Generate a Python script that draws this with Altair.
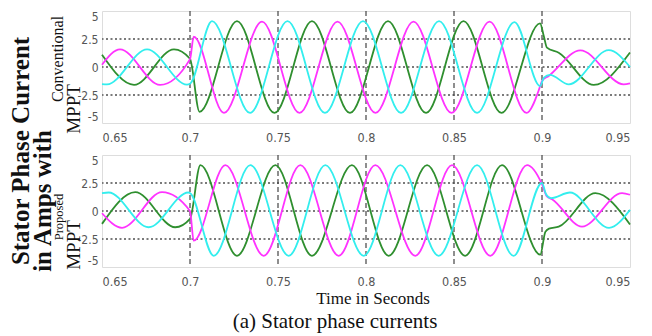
import altair as alt
import pandas as pd

# ---------------- data ----------------
x_ticks = [0.65, 0.7, 0.75, 0.8, 0.85, 0.9, 0.95]
y_ticks = [-5, -2.5, 0, 2.5, 5]
v_grid = [0.7, 0.75, 0.8, 0.85, 0.9]
h_grid = [-2.5, 0, 2.5]

# Top panel (Conventional MPPT)
top_mag_t = [0.6500, 0.6602, 0.6830, 0.7000, 0.7021, 0.7193, 0.7409, 0.7622, 0.7838, 0.8054,
             0.8270, 0.8486, 0.8702, 0.8912, 0.8990, 0.9000, 0.9038, 0.9218, 0.9464, 0.9500]
top_mag_i = [0.2, 1.58, -1.6, 0.7, 2.7, -4.1, 4.05, -4.1, 4.05, -4.1,
             4.05, -4.1, 4.05, -4.1, -1.7, -1.25, -0.8, 1.49, -1.55, -1.46]

top_cya_t = [0.6500, 0.6528, 0.6756, 0.6983, 0.7000, 0.7125, 0.7341, 0.7554, 0.7767, 0.7983,
             0.8199, 0.8415, 0.8631, 0.8844, 0.8989, 0.9011, 0.9045, 0.9152, 0.9379, 0.9500]
top_cya_i = [-1.52, -1.55, 1.58, -1.57, -1.5, 4.1, -4.1, 4.1, -4.1, 4.1,
             -4.1, 4.1, -4.1, 4.0, -1.7, -0.95, -0.7, -1.55, 1.5, 0.0]

top_grn_t = [0.6500, 0.6682, 0.6909, 0.7000, 0.7054, 0.7267, 0.7480, 0.7693, 0.7909, 0.8125,
             0.8341, 0.8554, 0.8770, 0.8989, 0.9010, 0.9028, 0.9095, 0.9294, 0.9500]
top_grn_i = [1.1, -1.6, 1.58, 0.74, -4.0, 4.1, -4.1, 4.1, -4.1, 4.1,
             -4.1, 4.1, -4.1, 3.9, 2.77, 1.73, 1.28, -1.6, 1.3]

# Bottom panel (Proposed MPPT)
bot_mag_t = [0.6500, 0.6614, 0.6841, 0.7000, 0.7021, 0.7201, 0.7419, 0.7627, 0.7845, 0.8053,
             0.8280, 0.8489, 0.8706, 0.8915, 0.9000, 0.9028, 0.9057, 0.9227, 0.9455, 0.9500]
bot_mag_i = [-0.2, -1.5, 1.68, 0.0, -2.65, 4.1, -4.0, 4.1, -4.0, 4.1,
             -4.0, 4.1, -4.0, 4.1, 2.4, 1.3, 1.05, -1.4, 1.6, 1.45]

bot_cya_t = [0.6500, 0.6538, 0.6765, 0.6991, 0.7000, 0.7135, 0.7343, 0.7561, 0.7769, 0.7987,
             0.8195, 0.8413, 0.8631, 0.8839, 0.9000, 0.9023, 0.9051, 0.9159, 0.9381, 0.9500]
bot_cya_i = [1.6, 1.65, -1.45, 1.65, 1.6, -4.0, 4.1, -4.0, 4.1, -4.0,
             4.1, -4.0, 4.1, -4.0, 2.5, 1.5, 1.15, 1.65, -1.5, 0.1]

bot_grn_t = [0.6500, 0.6689, 0.6916, 0.7000, 0.7059, 0.7267, 0.7485, 0.7693, 0.7920, 0.8129,
             0.8347, 0.8563, 0.8773, 0.8990, 0.9019, 0.9040, 0.9095, 0.9303, 0.9500]
bot_grn_i = [-1.15, 1.68, -1.45, -0.7, 4.1, -4.0, 4.1, -4.0, 4.1, -4.0,
             4.1, -4.0, 4.1, -3.9, -1.86, -1.57, -1.4, 1.59, -1.2]

phase_names = ["green", "magenta", "cyan"]
phase_colors = ["#2f8f2f", "#ff33ff", "#33eeee"]

rows = []
for panel, phase, ts, vs in [
    ("top", "green", top_grn_t, top_grn_i),
    ("top", "magenta", top_mag_t, top_mag_i),
    ("top", "cyan", top_cya_t, top_cya_i),
    ("bot", "green", bot_grn_t, bot_grn_i),
    ("bot", "magenta", bot_mag_t, bot_mag_i),
    ("bot", "cyan", bot_cya_t, bot_cya_i),
]:
    for t, v in zip(ts, vs):
        rows.append({"panel": panel, "phase": phase, "t": t, "i": v})
df = pd.DataFrame(rows)

W, H = 528, 112
xs = alt.Scale(domain=[0.65, 0.95], nice=False, zero=False)
ys = alt.Scale(domain=[-5, 5], nice=False, zero=False)
LABEL_FONT = "DejaVu Sans Condensed, Liberation Sans, sans-serif"
SERIF = "Liberation Serif, Times New Roman, serif"

xaxis = alt.Axis(values=x_ticks, format=".2~f", grid=False, ticks=False, domain=False,
                 labelPadding=8, labelFont=LABEL_FONT, labelFontSize=12.5,
                 labelColor="#555555", title=None)
yaxis = alt.Axis(values=y_ticks, labelExpr="datum.value < 0 ? '-' + format(-datum.value, '~g') : format(datum.value, '~g')",
                 grid=False, ticks=False, domain=False,
                 labelPadding=4, labelFlush=True, labelFont=LABEL_FONT, labelFontSize=12,
                 labelColor="#555555", title=None)


def text_layer(label, px, py, size, weight="normal"):
    return alt.Chart(pd.DataFrame({"label": [label]})).mark_text(
        angle=270, align="center", baseline="middle", font=SERIF,
        fontSize=size, fontWeight=weight, color="#111111"
    ).encode(x=alt.value(px), y=alt.value(py), text="label:N")


def flat_text(label, px, py, size):
    return alt.Chart(pd.DataFrame({"label": [label]})).mark_text(
        align="center", baseline="middle", font=SERIF, fontSize=size, color="#111111"
    ).encode(x=alt.value(px), y=alt.value(py), text="label:N")


def panel(name, extra):
    d = df[df.panel == name]
    hg = alt.Chart(pd.DataFrame({"i": h_grid})).mark_rule(
        color="#7a7a7a", strokeDash=[2, 2.5], strokeWidth=2
    ).encode(y=alt.Y("i:Q", scale=ys, axis=yaxis))
    vg = alt.Chart(pd.DataFrame({"t": v_grid})).mark_rule(
        color="#444444", strokeDash=[5, 3], strokeWidth=1.2
    ).encode(x=alt.X("t:Q", scale=xs, axis=xaxis))
    lines = alt.Chart(d).mark_line(interpolate="monotone", strokeWidth=1.8).encode(
        x=alt.X("t:Q", scale=xs, axis=xaxis),
        y=alt.Y("i:Q", scale=ys, axis=yaxis),
        color=alt.Color("phase:N", scale=alt.Scale(domain=phase_names, range=phase_colors), legend=None),
    )
    return alt.layer(hg, vg, lines, *extra).properties(width=W, height=H)


top_texts = [
    text_layer("Stator Phase Current", -81, 140, 25, "bold"),
    text_layer("in Amps with", -59, 190, 25, "bold"),
    text_layer("Conventional", -44, 48, 16),
    text_layer("MPPT", -28.5, 98, 19),
]
bot_texts = [
    text_layer("Proposed", -43, 62, 12.5),
    text_layer("MPPT", -28.5, 90, 19),
    flat_text("Time in Seconds", 271, 144, 17),
    flat_text("(a) Stator phase currents", 233, 167, 21),
]

chart = alt.vconcat(
    panel("top", top_texts), panel("bot", bot_texts), spacing=32, bounds="flush"
).properties(
    padding={"left": 0, "top": 1, "right": 0, "bottom": 0}
).configure_view(stroke="#6e6e6e", strokeWidth=2).configure(background="white")

chart.save("out.html", embed_options={"renderer": "svg", "actions": False})
